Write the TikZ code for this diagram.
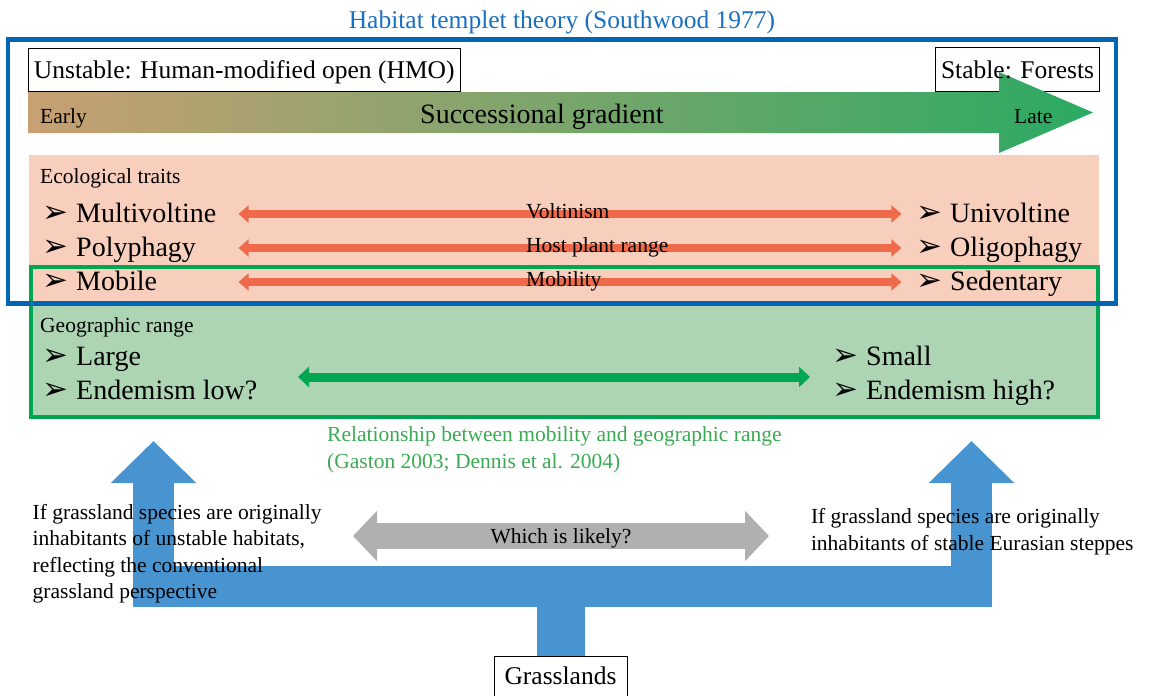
\documentclass[tikz,border=0pt]{standalone}
\usepackage{fontspec}
\setmainfont{Liberation Serif}
\newfontfamily\bulletfont{DejaVu Sans}
\usetikzlibrary{arrows.meta,positioning}

\pgfdeclarelayer{boxlayer}
\pgfsetlayers{boxlayer,main}

\definecolor{frameblue}{HTML}{0066B4}
\definecolor{titleblue}{HTML}{1A70C0}
\definecolor{traitpink}{HTML}{F8CEBD}
\definecolor{rangegreen}{HTML}{ADD5B3}
\definecolor{linegreen}{HTML}{00A651}
\definecolor{textgreen}{HTML}{3BAA52}
\definecolor{arrowred}{HTML}{EE6A4B}
\definecolor{arrowgray}{HTML}{AFB0AF}
\definecolor{arrowblue}{HTML}{4894D0}
\definecolor{earlytan}{HTML}{C8A073}
\definecolor{midolive}{HTML}{8DAA72}
\definecolor{lategreen}{HTML}{2BAA63}

\newcommand{\itembullet}{\makebox[34pt][l]{\bulletfont\fontsize{31}{31}\selectfont ➢}}

\begin{document}
\begin{tikzpicture}[x=1pt,y=-1pt,
    bigtext/.style={font=\fontsize{28}{32}\selectfont},
    midtext/.style={font=\fontsize{25.5}{30}\selectfont},
    smalltext/.style={font=\fontsize{21.5}{26.5}\selectfont},
    item/.style={bigtext,inner sep=0pt,anchor=base west},
    note/.style={smalltext,inner sep=0pt,anchor=base west},
    labelbox/.style={midtext,inner sep=0pt,text height=20pt,text depth=3pt,minimum height=43pt},
    traitarrow/.style={arrowred,line width=8pt,arrows={Triangle[width=17pt,length=10pt]-Triangle[width=17pt,length=10pt]}},
    rangearrow/.style={linegreen,line width=9pt,arrows={Triangle[width=20pt,length=11pt]-Triangle[width=20pt,length=11pt]}},
    choicearrow/.style={arrowgray,line width=26pt,arrows={Triangle[width=49pt,length=24pt]-Triangle[width=49pt,length=24pt]}},
    originarrow/.style={arrowblue,line width=41pt,arrows={-Triangle[width=83pt,length=42pt]}}]
    \useasboundingbox (0,0) rectangle (1154,696);

    % title and habitat ends
    \node[midtext,text=titleblue,anchor=base,inner sep=0pt] (title) at (562,28) {Habitat templet theory (Southwood 1977)};
    \node[labelbox,draw,line width=0.9pt,minimum width=431.5pt] (unstable) at (244.25,69.5) {Unstable: Human-modified open (HMO)};

    % successional gradient
    \shade[left color=earlytan,middle color=midolive,right color=lategreen]
        (28.5,92) -- (999,92) -- (999,72) -- (1093,112.5) -- (999,153) -- (999,133) -- (28.5,133) -- cycle;
    \node[labelbox,minimum width=163pt] (stable) at (1017.5,69.5) {Stable: Forests};
    \begin{pgfonlayer}{boxlayer}
        \draw[line width=0.9pt] (stable.south west) rectangle (stable.north east);
    \end{pgfonlayer}
    \node[note] (early) at (40,123) {Early};
    \node[item] (gradient) at (420,123) {Successional gradient};
    \node[note] (late) at (1014,123) {Late};

    % trait and range panels
    \fill[traitpink] (28.5,155) rectangle (1099,303);
    \fill[rangegreen] (31,303) rectangle (1098,417);
    \draw[linegreen,line width=4pt] (31,266.5) rectangle (1098,417);

    \node[note] (traits) at (40,183) {Ecological traits};
    \node[item] (multi) at (42,222) {\itembullet Multivoltine};
    \node[item] (poly) at (42,256) {\itembullet Polyphagy};
    \node[item] (mobile) at (42,290) {\itembullet Mobile};
    \node[item] (uni) at (916,222) {\itembullet Univoltine};
    \node[item] (oligo) at (916,256) {\itembullet Oligophagy};
    \node[item] (sedentary) at (916,290) {\itembullet Sedentary};

    \coordinate (voltL) at (238.6,214);
    \coordinate (voltR) at (901.4,214);
    \coordinate (hostL) at (238.6,248);
    \coordinate (hostR) at (901.4,248);
    \coordinate (mobL) at (238.6,282);
    \coordinate (mobR) at (901.4,282);
    \draw[traitarrow] (voltL) -- (voltR);
    \draw[traitarrow] (hostL) -- (hostR);
    \draw[traitarrow] (mobL) -- (mobR);
    \node[note] (voltinism) at (526,218) {Voltinism};
    \node[note] (hostrange) at (526,252) {Host plant range};
    \node[note] (mobility) at (526,286) {Mobility};

    \node[note] (georange) at (40,332) {Geographic range};
    \node[item] (large) at (42,365) {\itembullet Large};
    \node[item] (endlow) at (42,399) {\itembullet Endemism low?};
    \node[item] (small) at (832,365) {\itembullet Small};
    \node[item] (endhigh) at (832,399) {\itembullet Endemism high?};
    \coordinate (rangeL) at (298,377);
    \coordinate (rangeR) at (810,377);
    \draw[rangearrow] (rangeL) -- (rangeR);

    \draw[frameblue,line width=4.5pt] (8,39.5) rectangle (1116,303.7);

    \node[smalltext,text=textgreen,inner sep=0pt,anchor=north west,align=left,font=\fontsize{21.5}{27}\selectfont] (relation) at (327,426)
        {Relationship between mobility and geographic range\\(Gaston 2003; Dennis et al. 2004)};

    % grasslands and the two origins
    \node[labelbox,draw,line width=0.9pt,minimum width=133pt,minimum height=44pt,text height=18pt,text depth=5pt,anchor=north] (grass) at (560.5,656) {Grasslands};
    \coordinate (junction) at (560.5,586.5);
    \coordinate (lefttip) at (153.5,441);
    \coordinate (righttip) at (971.5,441);
    \draw[originarrow,arrows=-,line width=48pt] (grass.north) -- (junction);
    \draw[originarrow] (junction) -| (lefttip);
    \draw[originarrow] (junction) -| (righttip);

    \coordinate (choiceL) at (353,536);
    \coordinate (choiceR) at (769,536);
    \draw[choicearrow] (choiceL) -- node[smalltext,text=black,anchor=base,inner sep=0pt,yshift=-7pt] (which) {Which is likely?} (choiceR);

    \node[smalltext,inner sep=0pt,anchor=north west,align=left] (unstableorigin) at (32.5,504)
        {If grassland species are originally\\inhabitants of unstable habitats,\\reflecting the conventional\\grassland perspective};
    \node[smalltext,inner sep=0pt,anchor=north west,align=left,font=\fontsize{21.5}{27}\selectfont] (stableorigin) at (810.8,508)
        {If grassland species are originally\\inhabitants of stable Eurasian steppes};
\end{tikzpicture}
\end{document}
